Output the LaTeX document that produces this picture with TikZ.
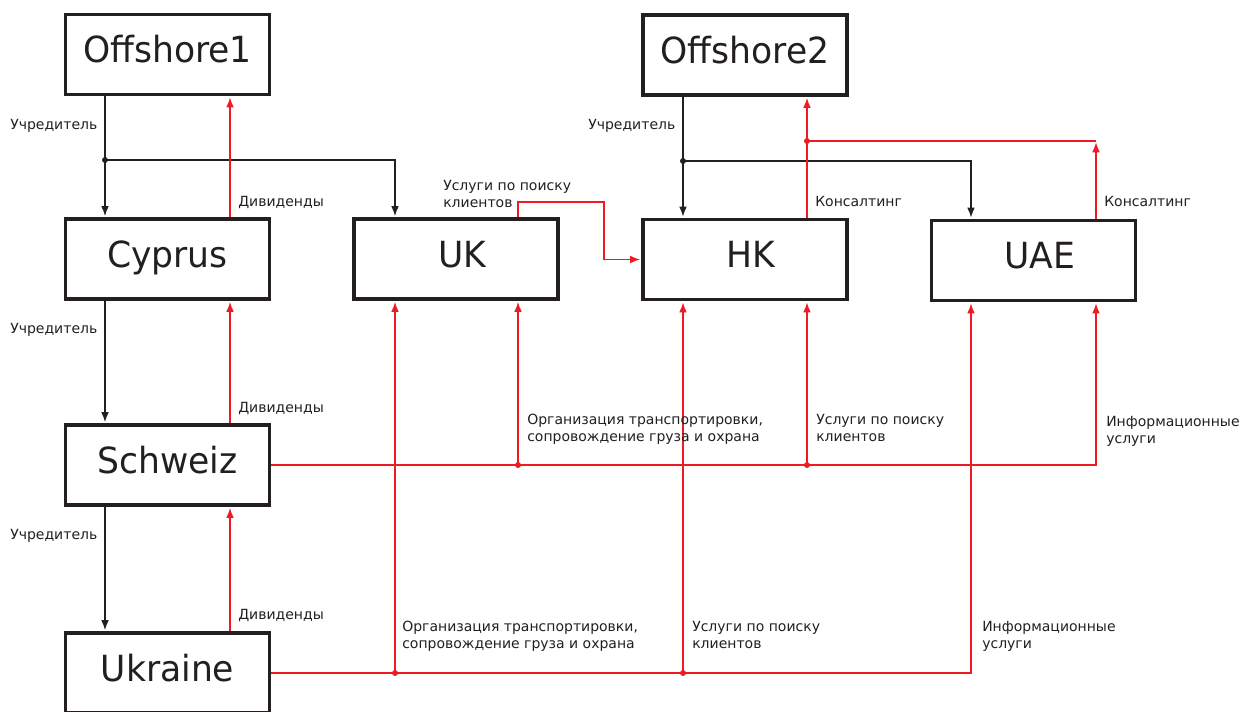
\documentclass[tikz,border=0pt]{standalone}
\usepackage{fontspec}
\setmainfont{DejaVu Sans}
\newfontfamily\boxfont[FakeStretch=0.96]{DejaVu Sans}
\usetikzlibrary{arrows.meta,calc}
\definecolor{inkgray}{RGB}{35,31,32}
\definecolor{flowred}{RGB}{237,28,36}

\begin{document}
\begin{tikzpicture}[x=0.75pt,y=0.75pt,yscale=-1,
  entity/.style={draw=inkgray,line width=2.4pt,minimum width=153pt,minimum height=60pt,inner sep=0pt,text height=18pt,text depth=6pt,text=inkgray,font=\boxfont\fontsize{27}{27}\selectfont},
  founder/.style={draw=inkgray,line width=0.9pt,shorten >=1pt,-{Latex[length=7.5pt,width=5.8pt]}},
  flow/.style={draw=flowred,line width=0.9pt,shorten >=1pt,-{Latex[length=7.5pt,width=5.8pt]}},
  flowline/.style={draw=flowred,line width=0.9pt},
  lbl/.style={anchor=base west,inner sep=0pt,align=left,text=inkgray,font=\fontsize{10.5}{12.75}\selectfont}]
\useasboundingbox (0,0) rectangle (1254,711);

% companies
\node[entity] (off1) at (167.5,54.5) {Offshore1};
\node[entity] (cyp) at (167.5,259) {Cyprus};
\node[entity] (sch) at (167.5,465) {Schweiz};
\node[entity] (ukr) at (167.5,673) {Ukraine};
\node[entity] (uk) at (456,259) {\hspace*{9pt}UK};
\node[entity] (off2) at (745,55) {Offshore2};
\node[entity] (hk) at (745,259.5) {\hspace*{9pt}HK};
\node[entity] (uae) at (1033.5,260.5) {\hspace*{9pt}UAE};

% connector columns and bends
\coordinate (aL) at (105,0);
\coordinate (aR) at (230,0);
\coordinate (bL) at (395,0);
\coordinate (bR) at (518,0);
\coordinate (cL) at (683,0);
\coordinate (cR) at (807,0);
\coordinate (dL) at (971,0);
\coordinate (dR) at (1096,0);
\coordinate (j1) at (105,160);
\coordinate (j2) at (683,161);
\coordinate (r1) at (807,141);
\coordinate (k1) at (604,202);

% founders
\draw[founder] (off1.south -| aL) -- (cyp.north -| aL);
\draw[founder] (j1) -| (uk.north -| bL);
\fill[inkgray] (j1) circle (3);
\draw[founder] (cyp.south -| aL) -- (sch.north -| aL);
\draw[founder] (sch.south -| aL) -- (ukr.north -| aL);
\draw[founder] (off2.south -| cL) -- (hk.north -| cL);
\draw[founder] (j2) -| (uae.north -| dL);
\fill[inkgray] (j2) circle (3);

% dividends
\draw[flow] (cyp.north -| aR) -- (off1.south -| aR);
\draw[flow] (sch.north -| aR) -- (cyp.south -| aR);
\draw[flow] (ukr.north -| aR) -- (sch.south -| aR);

% services
\draw[flow] (uk.north -| bR) |- (k1) |- (hk.west);
\draw[flow] (hk.north -| cR) -- (off2.south -| cR);
\draw[flow] (uae.north -| dR) -- (r1 -| dR);
\draw[flowline] (r1 -| dR) -- (r1);
\fill[flowred] (r1) circle (3);

\draw[flow] (sch.east) -| (uae.south -| dR);
\draw[flow] (sch.east -| bR) -- (uk.south -| bR);
\draw[flow] (sch.east -| cR) -- (hk.south -| cR);
\fill[flowred] (sch.east -| bR) circle (3);
\fill[flowred] (sch.east -| cR) circle (3);

\draw[flow] (ukr.east) -| (uae.south -| dL);
\draw[flow] (ukr.east -| bL) -- (uk.south -| bL);
\draw[flow] (ukr.east -| cL) -- (hk.south -| cL);
\fill[flowred] (ukr.east -| bL) circle (3);
\fill[flowred] (ukr.east -| cL) circle (3);

% labels
\node[lbl] (u1) at (10,129) {Учредитель};
\node[lbl] (u2) at (10,333) {Учредитель};
\node[lbl] (u3) at (10,539) {Учредитель};
\node[lbl] (u4) at (588,129) {Учредитель};
\node[lbl] (d1) at (238,206) {Дивиденды};
\node[lbl] (d2) at (238,412) {Дивиденды};
\node[lbl] (d3) at (238,619) {Дивиденды};
\node[lbl] (s1) at (443,207) {Услуги по поиску\\клиентов};
\node[lbl] (c1) at (815,206) {Консалтинг};
\node[lbl] (c2) at (1104,206) {Консалтинг};
\node[lbl] (t1) at (527,441) {Организация транспортировки,\\сопровождение груза и охрана};
\node[lbl] (s2) at (816,441) {Услуги по поиску\\клиентов};
\node[lbl] (i1) at (1106,443) {Информационные\\услуги};
\node[lbl] (t2) at (402,648) {Организация транспортировки,\\сопровождение груза и охрана};
\node[lbl] (s3) at (692,648) {Услуги по поиску\\клиентов};
\node[lbl] (i2) at (982,648) {Информационные\\услуги};

\end{tikzpicture}
\end{document}
